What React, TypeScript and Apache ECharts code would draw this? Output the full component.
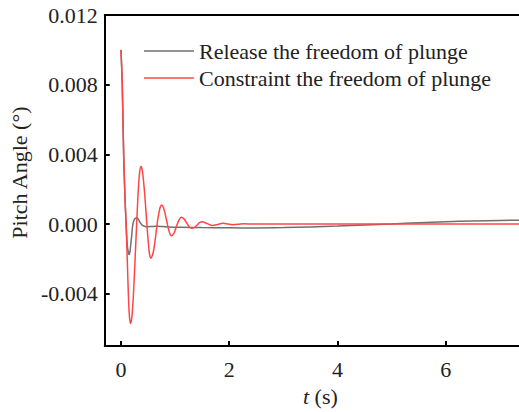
import React, { useEffect, useRef } from "react";
import * as echarts from "echarts";

// Pitch angle response (deg) over time (s)
const releaseLabel = "Release the freedom of plunge";
const constraintLabel = "Constraint the freedom of plunge";

const releaseT = [
  0, 0.012, 0.024, 0.037, 0.05, 0.063, 0.075, 0.085, 0.095, 0.108, 0.12, 0.135, 0.15, 0.165, 0.18, 0.2,
  0.22, 0.245, 0.27, 0.295, 0.32, 0.35, 0.38, 0.42, 0.47, 0.55, 0.65, 0.75, 0.9, 1.1, 1.5, 2, 2.5, 3,
  3.5, 4, 4.5, 5, 5.5, 6, 6.5, 7, 7.5, 8,
];
const releaseV = [
  0.01, 0.0091, 0.008, 0.006, 0.004, 0.0026, 0.0015, 0.0007, 0.0, -0.0008, -0.0013, -0.0016, -0.00174,
  -0.0016, -0.0012, -0.0006, 0.0, 0.00025, 0.00034, 0.00036, 0.00028, 0.00012, -0.00002, -0.00011,
  -0.00015, -0.00014, -0.00012, -0.00013, -0.00016, -0.00018, -0.0002, -0.00021, -0.00022, -0.0002,
  -0.00016, -0.00011, -0.00005, 0.00001, 0.00008, 0.00014, 0.00018, 0.00021, 0.00023, 0.00025,
];

const constraintT = [
  0, 0.012, 0.024, 0.037, 0.05, 0.063, 0.075, 0.085, 0.095, 0.108, 0.12, 0.13, 0.14, 0.15, 0.16, 0.175,
  0.199, 0.224, 0.248, 0.2725, 0.297, 0.321, 0.346, 0.37, 0.393, 0.416, 0.439, 0.4625, 0.486, 0.509,
  0.532, 0.555, 0.579, 0.604, 0.628, 0.6525, 0.677, 0.701, 0.726, 0.75, 0.773, 0.796, 0.819, 0.8425,
  0.866, 0.889, 0.912, 0.935, 0.98, 1.025, 1.07, 1.115, 1.164, 1.2125, 1.261, 1.31, 1.3575, 1.405,
  1.4525, 1.5, 1.595, 1.69, 1.785, 1.88, 2.07, 2.26, 2.5, 3, 4, 5, 6, 7, 8,
];
const constraintV = [
  0.01, 0.0091, 0.008, 0.006, 0.004, 0.0026, 0.0015, 0.0007, 0.0, -0.0012, -0.0024, -0.0034, -0.0043,
  -0.005, -0.0054, -0.0057, -0.0054, -0.0044, -0.0029, -0.0012, 0.0005, 0.002, 0.003, 0.0033, 0.0031,
  0.0025, 0.0017, 0.0007, -0.0003, -0.0012, -0.0018, -0.00196, -0.0018, -0.0015, -0.001, -0.0004,
  0.0002, 0.00065, 0.00098, 0.0011, 0.00103, 0.00084, 0.00055, 0.00022, -0.00012, -0.00041, -0.0006,
  -0.00067, -0.00052, -0.00014, 0.00023, 0.00039, 0.0003, 0.00008, -0.00015, -0.00024, -0.00019,
  -0.00006, 0.00008, 0.00013, 0.00003, -0.00008, -0.00002, 0.00005, -0.00003, 0.00002, 0, 0, 0, 0, 0,
  0, 0,
];

const xTicks = [0, 2, 4, 6, 8];
const xTickLabels = [0, 2, 4, 6];
const yTicks = [-0.004, 0, 0.004, 0.008, 0.012];

const FONT = "'Liberation Serif', 'Times New Roman', serif";

export default function App() {
  const ref = useRef<HTMLDivElement>(null);

  useEffect(() => {
    if (!ref.current) return;
    const chart = echarts.init(ref.current, undefined, { renderer: "svg" });
    const pairs = (t: number[], v: number[]) => t.map((x, i) => [x, v[i]]);
    const axisLine = { show: true, onZero: false, lineStyle: { color: "#000", width: 2 } };
    chart.setOption({
      animation: false,
      backgroundColor: "#fff",
      grid: { left: 104, top: 15, right: 16, bottom: 58, containLabel: false },
      legend: {
        orient: "vertical",
        left: 139,
        top: 35,
        itemWidth: 50,
        itemHeight: 1.5,
        itemGap: 5,
        icon: "rect",
        textStyle: { fontFamily: FONT, fontSize: 22, color: "#222", lineHeight: 22 },
        data: [releaseLabel, constraintLabel],
      },
      xAxis: [
        {
          type: "value",
          min: -0.3,
          max: 8,
          axisLine,
          splitLine: { show: false },
          axisTick: {
            show: true,
            inside: true,
            length: 5,
            customValues: xTicks,
            lineStyle: { color: "#000", width: 2 },
          },
          axisLabel: {
            customValues: xTickLabels,
            margin: 12,
            fontFamily: FONT,
            fontSize: 22,
            color: "#222",
          },
          name: "{i|t} (s)",
          nameLocation: "middle",
          nameGap: 32,
          nameTextStyle: {
            fontFamily: FONT,
            fontSize: 22,
            color: "#222",
            padding: [0, 18, 0, 0],
            rich: { i: { fontFamily: FONT, fontSize: 22, fontStyle: "italic", color: "#222" } },
          },
        },
        {
          type: "value",
          position: "top",
          min: -0.3,
          max: 8,
          axisLine,
          axisTick: { show: false },
          axisLabel: { show: false },
          splitLine: { show: false },
        },
      ],
      yAxis: {
        type: "value",
        min: -0.007,
        max: 0.012,
        axisLine,
        splitLine: { show: false },
        axisTick: {
          show: true,
          inside: true,
          length: 5,
          customValues: yTicks,
          lineStyle: { color: "#000", width: 2 },
        },
        axisLabel: {
          customValues: yTicks,
          margin: 7,
          fontFamily: FONT,
          fontSize: 22,
          color: "#222",
          formatter: (v: number) => v.toFixed(3),
        },
        name: "Pitch Angle (°)",
        nameLocation: "middle",
        nameGap: 57,
        nameTextStyle: { fontFamily: FONT, fontSize: 22, color: "#222", padding: [0, 0, 0, 16] },
      },
      series: [
        {
          name: releaseLabel,
          type: "line",
          symbol: "none",
          smooth: 0.3,
          data: pairs(releaseT, releaseV),
          lineStyle: { color: "#707070", width: 1.5 },
          itemStyle: { color: "#707070" },
        },
        {
          name: constraintLabel,
          type: "line",
          symbol: "none",
          smooth: 0.3,
          data: pairs(constraintT, constraintV),
          lineStyle: { color: "#ff4646", width: 1.5 },
          itemStyle: { color: "#ff4646" },
        },
      ],
    });
    return () => chart.dispose();
  }, []);

  return (
    <div
      style={{
        position: "fixed",
        left: 0,
        top: 0,
        width: 519,
        height: 412,
        overflow: "hidden",
        background: "#fff",
      }}
    >
      <div ref={ref} style={{ width: 570, height: 412 }} />
    </div>
  );
}
